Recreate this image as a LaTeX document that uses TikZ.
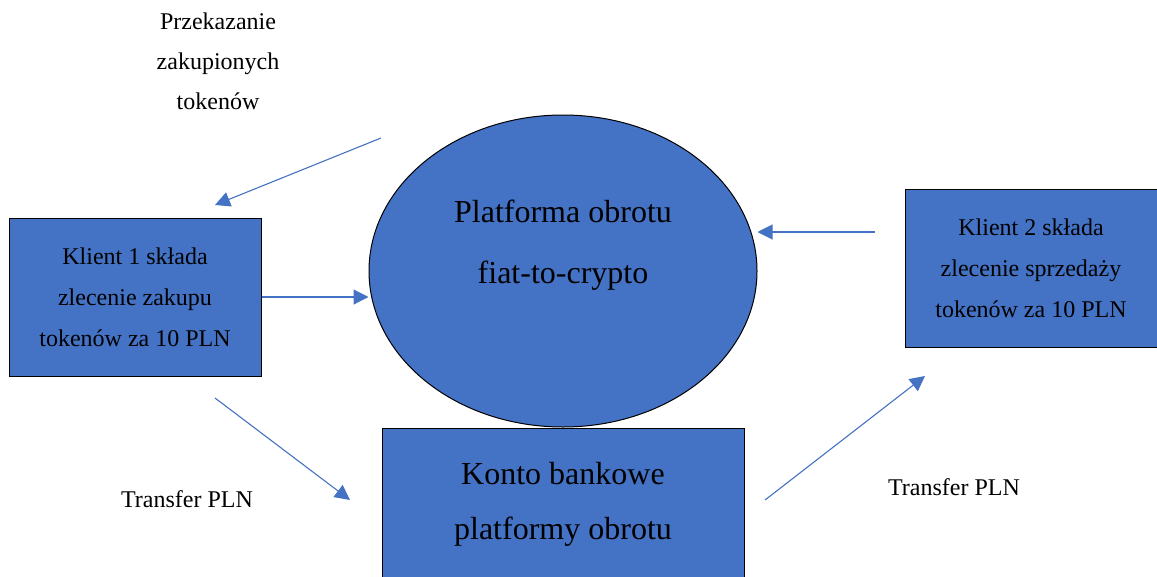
\documentclass[tikz,border=0pt]{standalone}
\usepackage{fontspec}
\setmainfont{Liberation Serif}
\usetikzlibrary{arrows.meta}
\usetikzlibrary{shapes.geometric}
\usetikzlibrary{positioning}

\definecolor{plblue}{HTML}{4472C4}

\begin{document}
\begin{tikzpicture}[x=1pt,y=-1pt,
        box/.style={draw=black,fill=plblue,line width=1pt,align=center,inner sep=0pt},
        platf/.style={ellipse,draw=black,fill=plblue,line width=1pt,inner sep=0pt,
            minimum width=388pt,minimum height=312pt},
        flow/.style={-{Triangle[length=15pt,width=15pt,fill=plblue]},draw=plblue,line width=1.1pt},
        lbl/.style={align=center,font=\fontsize{24}{40}\selectfont}]
        \useasboundingbox (0,0) rectangle (1157,576);
        \node [platf,label={[align=center,font=\fontsize{32}{61}\selectfont,yshift=25.5pt]center:{Platforma obrotu\\fiat-to-crypto}}] (plat) at (563,271) {};
        \node [box,minimum width=252pt,minimum height=158pt,font=\fontsize{24}{41}\selectfont] (k1) at (135,297) {Klient 1 składa\\zlecenie zakupu\\tokenów za 10 PLN};
        \node [box,minimum width=252pt,minimum height=158pt,font=\fontsize{24}{41}\selectfont] (k2) at (1031,268) {Klient 2 składa\\zlecenie sprzedaży\\tokenów za 10 PLN};
        \node [box,minimum width=362pt,minimum height=153pt,font=\fontsize{32}{55}\selectfont] (konto) [below=0pt of plat] {Konto bankowe\\platformy obrotu};
        \node [lbl] (przek) at (218,61) {Przekazanie\\zakupionych\\tokenów};
        \node [lbl,anchor=base] (tr1) at (187,507) {Transfer PLN};
        \node [lbl,anchor=base] (tr2) at (954,495) {Transfer PLN};
        \coordinate (p1) at (381,138);
        \coordinate (p2) at (215,205);
        \coordinate (c2) at (875,232);
        \coordinate (t1) at (215,398);
        \coordinate (t2) at (350,500);
        \coordinate (t3) at (765,500);
        \coordinate (t4) at (925,376);
        \path
            (p1) edge [flow] (p2)
            (k1.east) edge [flow] (k1.east -| plat.west)
            (c2) edge [flow] (c2 -| plat.east)
            (t1) edge [flow] (t2)
            (t3) edge [flow] (t4);
    \end{tikzpicture}
\end{document}
